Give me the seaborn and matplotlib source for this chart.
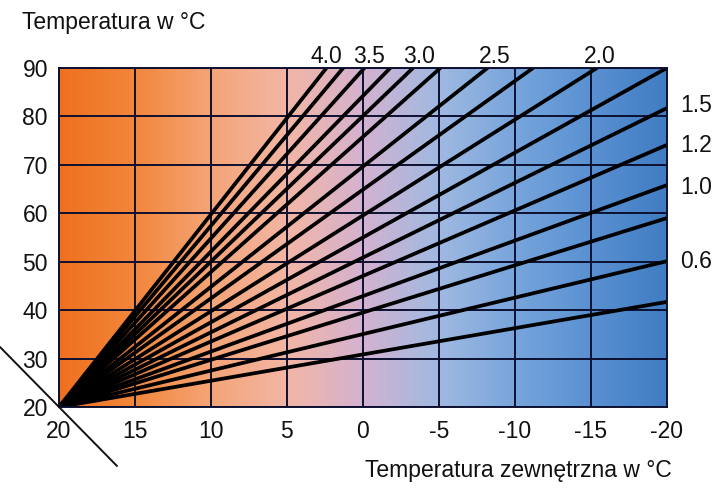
import numpy as np
import pandas as pd
import seaborn as sns
import matplotlib.pyplot as plt
from matplotlib.colors import LinearSegmentedColormap
from matplotlib.lines import Line2D

# Heizkurven: alle Linien starten bei (20, 20)
start_out = 20
start_flow = 20
# Kurven, die oben (90 °C) enden -> Außentemperatur am Ende
top_end_out = [2.4, 1.3, -0.1, -1.8, -3.3, -5.1, -8.2, -11.2, -15.4, -20.0]
# Kurven, die rechts (-20 °C) enden -> Vorlauftemperatur am Ende
right_end_flow = [81.7, 74.1, 65.8, 59.0, 50.1, 41.7]

top_labels = ["4.0", "3.5", "3.0", "2.5", "2.0"]
top_label_x = [2.4, -0.4, -3.7, -8.7, -15.6]
right_labels = ["1.5", "1.2", "1.0", "0.6"]
right_label_y = [82.2, 74.1, 65.4, 50.1]

x_ticks = [20, 15, 10, 5, 0, -5, -10, -15, -20]
y_ticks = [20, 30, 40, 50, 60, 70, 80, 90]

rows = []
k = 0
for xe in top_end_out:
    rows.append({"curve": k, "t_out": start_out, "t_flow": start_flow})
    rows.append({"curve": k, "t_out": xe, "t_flow": 90})
    k += 1
for ye in right_end_flow:
    rows.append({"curve": k, "t_out": start_out, "t_flow": start_flow})
    rows.append({"curve": k, "t_out": -20, "t_flow": ye})
    k += 1
df = pd.DataFrame(rows)

sns.set_style("white")
plt.rcParams["font.family"] = ["Liberation Sans", "DejaVu Sans"]
FS = 16.5

fig = plt.figure(figsize=(7.2, 5), dpi=100)
ax = fig.add_axes([0.082, 0.186, 0.844, 0.678])

# Hintergrund-Verlauf orange -> blau
cmap = LinearSegmentedColormap.from_list("heat", [
    (0.0, (240/255, 112/255, 32/255)),
    (0.125, (242/255, 135/255, 60/255)),
    (0.25, (245/255, 165/255, 120/255)),
    (0.375, (242/255, 182/255, 165/255)),
    (0.5, (212/255, 178/255, 208/255)),
    (0.625, (160/255, 185/255, 225/255)),
    (0.75, (120/255, 165/255, 220/255)),
    (0.875, (90/255, 145/255, 210/255)),
    (1.0, (65/255, 125/255, 195/255)),
])
grad = np.linspace(0, 1, 400).reshape(1, -1)
ax.imshow(grad, cmap=cmap, extent=[20, -20, 20, 90], aspect="auto", zorder=0)

for v in x_ticks:
    ax.axvline(v, color="#0d1030", lw=1.4, zorder=1)
for v in y_ticks:
    ax.axhline(v, color="#0d1030", lw=1.4, zorder=1)

sns.lineplot(data=df, x="t_out", y="t_flow", units="curve", estimator=None,
             color="black", lw=2.7, ax=ax, zorder=2, legend=False)

ax.set_xlim(20, -20)
ax.set_ylim(20, 90)
ax.set_xticks(x_ticks)
ax.set_xticklabels([str(v) for v in x_ticks])
ax.set_yticks(y_ticks)
ax.set_yticklabels([str(v) for v in y_ticks])
ax.tick_params(axis="x", length=0, labelsize=FS, colors="#111111", pad=9)
ax.tick_params(axis="y", length=0, labelsize=FS, colors="#111111", pad=8)
ax.set_xlabel("")
ax.set_ylabel("")
for s in ax.spines.values():
    s.set_color("#0d1030")
    s.set_linewidth(1.4)

for lab, xv in zip(top_labels, top_label_x):
    ax.text(xv, 89.9, lab, ha="center", va="bottom", fontsize=FS, color="#111111", clip_on=False)
for lab, yv in zip(right_labels, right_label_y):
    ax.text(-20.9, yv, lab, ha="left", va="center", fontsize=FS, color="#111111", clip_on=False)

fig.text(0.03, 0.955, "Temperatura w °C", ha="left", va="center", fontsize=FS, color="#111111")
fig.text(0.933, 0.06, "Temperatura zewnętrzna w °C", ha="right", va="center", fontsize=FS, color="#111111")

fig.add_artist(Line2D([0.0, 0.1625], [0.306, 0.068], color="#111111", lw=1.4))

fig.savefig("out.png", dpi=100)
